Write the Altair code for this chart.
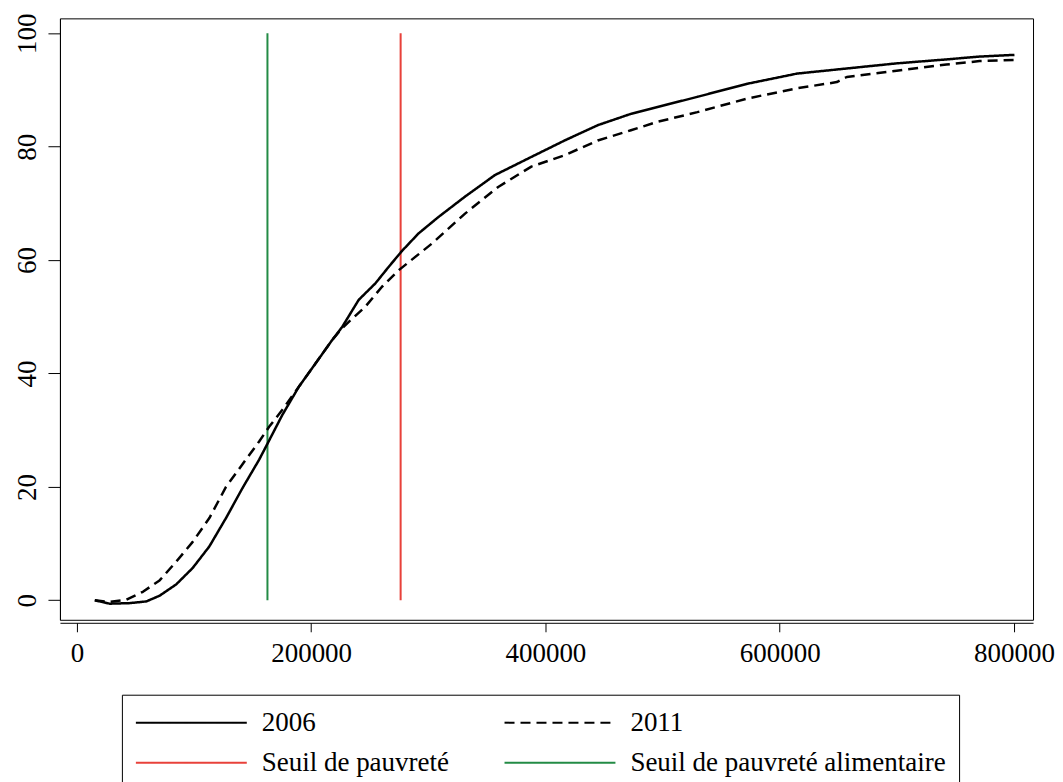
import altair as alt
import pandas as pd

# ---- data ----
# legend order is column-major in Vega, so list entries column by column
series_names = ["2006", "Seuil de pauvreté", "2011", "Seuil de pauvreté alimentaire"]
series_colors = ["#000000", "#e8413a", "#000000", "#238b45"]
series_dash = [[1, 0], [1, 0], [10, 6], [1, 0]]

x_2006 = [15300, 28060, 45070, 59270, 70580, 84780, 98890, 113100, 127300, 141410,
          155610, 162670, 175430, 189630, 203830, 217940, 226450, 240650, 254850, 266160,
          277470, 291670, 308670, 331380, 356890, 388010, 416410, 444730, 473040, 495750,
          529760, 572270, 614800, 657310, 699830, 742350, 770660, 800430]
y_2006 = [0, -0.6, -0.5, -0.2, 0.8, 2.8, 5.7, 9.5, 14.5, 19.8,
          24.8, 27.6, 32.7, 37.7, 41.8, 45.9, 48.2, 53.0, 55.9, 58.8,
          61.6, 64.7, 67.6, 71.2, 75.0, 78.2, 81.1, 83.8, 85.8, 87.0,
          88.8, 91.1, 92.9, 93.8, 94.7, 95.4, 95.9, 96.2]

x_2011 = [15300, 28060, 42260, 56380, 70580, 84780, 98890, 113100, 127300, 141410,
          155610, 164120, 175430, 189630, 203830, 217940, 226450, 232140, 246340, 260460,
          274660, 302980, 331380, 359690, 388010, 416410, 444730, 473040, 495750, 529760,
          572270, 614800, 648810, 657310, 699830, 742350, 770660, 800430]
y_2011 = [0, -0.3, 0.1, 1.5, 3.5, 6.8, 10.3, 14.5, 20.0, 24.0,
          28.0, 30.6, 33.6, 37.7, 41.8, 45.9, 48.0, 49.1, 51.8, 55.3,
          58.2, 62.9, 68.2, 72.9, 76.5, 78.5, 81.1, 82.9, 84.4, 86.1,
          88.5, 90.3, 91.4, 92.3, 93.4, 94.5, 95.1, 95.3]

threshold_names = ["Seuil de pauvreté", "Seuil de pauvreté alimentaire"]
threshold_x = [276400, 162700]
threshold_y0 = [0, 0]
threshold_y1 = [100, 100]

x_ticks = [0, 200000, 400000, 600000, 800000]
y_ticks = [0, 20, 40, 60, 80, 100]

# ---- tables ----
curves = pd.concat([
    pd.DataFrame({"revenu": x_2006, "pct": y_2006, "serie": "2006", "ordre": range(len(x_2006))}),
    pd.DataFrame({"revenu": x_2011, "pct": y_2011, "serie": "2011", "ordre": range(len(x_2011))}),
])
rules = pd.DataFrame({"revenu": threshold_x, "y0": threshold_y0, "y1": threshold_y1,
                      "serie": threshold_names})

FONT = "Liberation Serif"

legend = alt.Legend(
    title=None, orient="none", legendX=62, legendY=677, columns=2,
    columnPadding=51, rowPadding=12, padding=13,
    symbolType="M-1,0L6.93,0", symbolSize=784, symbolStrokeWidth=2,
    labelOffset=97, labelLimit=600, labelFont=FONT, labelFontSize=27,
    labelColor="#000000", strokeColor="#000000",
)

color = alt.Color("serie:N", scale=alt.Scale(domain=series_names, range=series_colors), legend=legend)
dash = alt.StrokeDash("serie:N", scale=alt.Scale(domain=series_names, range=series_dash), legend=legend)

xscale = alt.Scale(domain=[-14450, 816300], nice=False, zero=False)
yscale = alt.Scale(domain=[-3.44, 102.64], nice=False, zero=False)

xaxis = alt.Axis(values=x_ticks, format="d", title=None, grid=False, tickSize=9,
                 labelPadding=9, offset=3)
yaxis = alt.Axis(values=y_ticks, format="d", title=None, grid=False, tickSize=12,
                 labelAngle=270, labelAlign="center", labelBaseline="alphabetic",
                 labelPadding=12)

lines = alt.Chart(curves).mark_line(strokeWidth=2.5, strokeJoin="round").encode(
    x=alt.X("revenu:Q", scale=xscale, axis=xaxis),
    y=alt.Y("pct:Q", scale=yscale, axis=yaxis),
    color=color,
    strokeDash=dash,
    order="ordre:Q",
)

vrules = alt.Chart(rules).mark_rule(strokeWidth=2).encode(
    x=alt.X("revenu:Q", scale=xscale, axis=xaxis),
    y=alt.Y("y0:Q", scale=yscale, axis=yaxis),
    y2="y1:Q",
    color=color,
    strokeDash=dash,
)

chart = alt.layer(vrules, lines).properties(
    width=974, height=602,
    padding={"left": 52, "top": 10, "right": 22, "bottom": 170},
    autosize=alt.AutoSizeParams(type="none"),
    background="white",
).configure_view(
    stroke="#000000", strokeWidth=1
).configure_axis(
    labelFont=FONT, labelFontSize=27, labelColor="#000000",
    tickColor="#000000", domainColor="#000000", tickWidth=1, domainWidth=1,
)

chart.save("out.html", embed_options={"renderer": "svg", "actions": False})
